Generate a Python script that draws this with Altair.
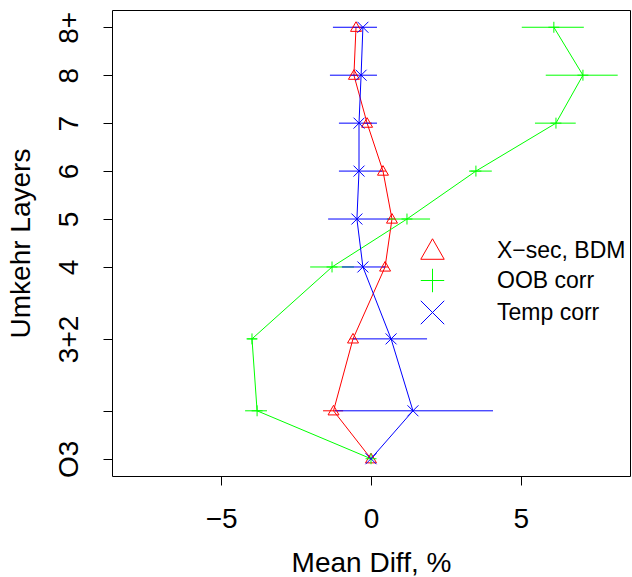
import altair as alt
import pandas as pd

# ---- data ----
layers = [0, 1, 2.5, 4, 5, 6, 7, 8, 9]
layer_labels = ["O3", "", "3+2", "4", "5", "6", "7", "8", "8+"]

series_names = ["X\u2212sec, BDM", "OOB corr", "Temp corr"]
series_colors = ["#FF0000", "#00FF00", "#0000FF"]
series_shapes = [
    "M0,-1L1,0.75L-1,0.75Z",
    "M-1,0L1,0M0,-1L0,1",
    "M-1,-1L1,1M-1,1L1,-1",
]

xsec_mean = [0.0, -1.25, -0.6, 0.47, 0.7, 0.4, -0.13, -0.57, -0.5]
xsec_lo = [0.0, -1.6, -0.7, 0.37, 0.6, 0.3, -0.23, -0.7, -0.63]
xsec_hi = [0.0, -0.93, -0.5, 0.57, 0.8, 0.5, 0.03, -0.43, -0.3]

oob_mean = [0.0, -3.8, -3.97, -1.3, 1.2, 3.5, 6.17, 7.07, 6.1]
oob_lo = [0.0, -4.2, -4.13, -2.03, 0.53, 3.27, 5.47, 5.83, 5.03]
oob_hi = [0.0, -3.47, -3.8, -0.57, 1.97, 4.03, 6.83, 8.23, 7.1]

temp_mean = [0.0, 1.4, 0.67, -0.27, -0.47, -0.4, -0.4, -0.33, -0.27]
temp_lo = [0.0, -1.2, -0.6, -0.97, -1.43, -1.07, -1.07, -1.37, -1.27]
temp_hi = [0.0, 4.07, 1.87, 0.47, 0.63, 0.37, 0.2, 0.2, 0.2]

x_ticks = [-5, 0, 5]

# ---- build table ----
rows = []
for name, m, lo, hi in [
    (series_names[0], xsec_mean, xsec_lo, xsec_hi),
    (series_names[1], oob_mean, oob_lo, oob_hi),
    (series_names[2], temp_mean, temp_lo, temp_hi),
]:
    for L, a, b, c in zip(layers, m, lo, hi):
        rows.append({"series": name, "layer": L, "mean": a, "lo": b, "hi": c})
df = pd.DataFrame(rows)

FONT = "Liberation Sans"

xscale = alt.Scale(domain=[-8.64, 8.64], nice=False, zero=False)
yscale = alt.Scale(domain=[-0.36, 9.36], nice=False, zero=False)

label_expr = " : ".join(
    [f"datum.value == {v} ? '{t}'" for v, t in zip(layers, layer_labels)]
) + " : datum.label"

xaxis = alt.Axis(
    values=x_ticks, title="Mean Diff, %", labelPadding=42, labelBaseline="alphabetic",
    titleX=259, titleY=95, titleBaseline="alphabetic", titleAlign="center",
)
yaxis = alt.Axis(
    values=layers, title="Umkehr Layers", labelExpr=label_expr, labelAngle=-90,
    labelAlign="center", labelBaseline="alphabetic", labelPadding=26,
    titleX=-83, titleY=233, titleBaseline="alphabetic", titleAlign="center", titleAngle=-90,
)

base = alt.Chart(df)
layers_list = []
for i, name in enumerate(series_names):
    sub = base.transform_filter(alt.datum.series == name)
    line = sub.mark_line(color=series_colors[i], strokeWidth=1).encode(
        x=alt.X("mean:Q", scale=xscale, axis=xaxis),
        y=alt.Y("layer:Q", scale=yscale, axis=yaxis),
        order=alt.Order("layer:Q"),
    )
    bars = sub.mark_rule(color=series_colors[i], strokeWidth=1).encode(
        x=alt.X("lo:Q", scale=xscale),
        x2="hi:Q",
        y=alt.Y("layer:Q", scale=yscale),
    )
    layers_list += [line, bars]

leg = alt.Legend(
    orient="none", legendX=308, legendY=228, title=None,
    symbolSize=550, symbolStrokeWidth=1, labelFontSize=23,
    labelFont=FONT, labelColor="black", labelOffset=52,
    rowPadding=3, padding=0, labelBaseline="middle",
)
pts = base.mark_point(filled=False, strokeWidth=1, size=120, opacity=1).encode(
    x=alt.X("mean:Q", scale=xscale),
    y=alt.Y("layer:Q", scale=yscale),
    color=alt.Color("series:N", scale=alt.Scale(domain=series_names, range=series_colors), legend=leg),
    shape=alt.Shape("series:N", scale=alt.Scale(domain=series_names, range=series_shapes), legend=leg),
)
layers_list.append(pts)

chart = alt.layer(*layers_list).properties(
    width=518, height=466,
    autosize=alt.AutoSizeParams(type="none"),
    padding={"left": 112, "top": 10, "right": 2, "bottom": 101},
    background="white",
).configure_view(
    stroke="black", strokeWidth=1
).configure_axis(
    grid=False, domain=False, tickColor="black", tickSize=9, tickWidth=1,
    labelFont=FONT, titleFont=FONT, labelFontSize=28, titleFontSize=28,
    labelColor="black", titleColor="black", titleFontWeight="normal",
)

chart.save("out.html", embed_options={"renderer": "svg", "actions": False})
